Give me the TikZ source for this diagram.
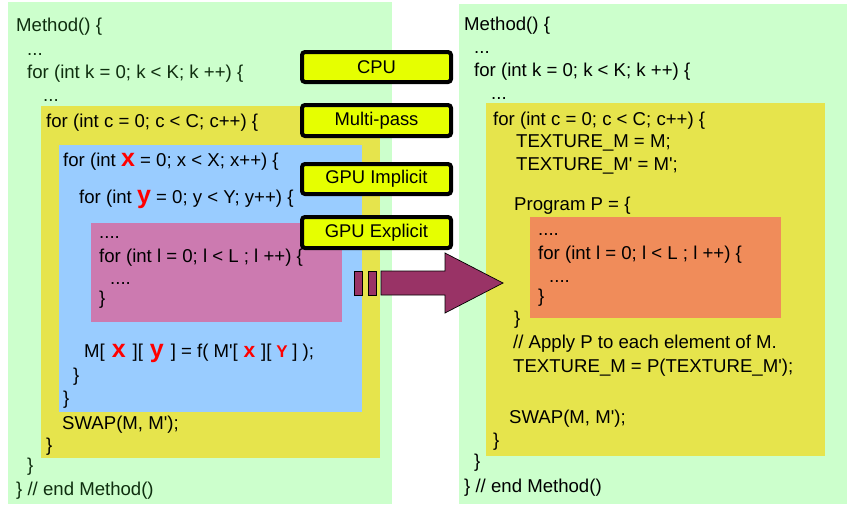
\documentclass[tikz,border=0pt]{standalone}
\usepackage{fontspec}
\setmainfont{Liberation Sans}
\definecolor{lgreen}{HTML}{CCFFCC}
\definecolor{olive}{HTML}{E6E44C}
\definecolor{lblue}{HTML}{99CCFF}
\definecolor{pinkbox}{HTML}{CC7AB0}
\definecolor{orangebox}{HTML}{F08C5A}
\definecolor{labfill}{HTML}{E6FF00}
\definecolor{arrowc}{HTML}{993366}
\definecolor{dgreen}{HTML}{0F2E0F}
\newcommand{\pr}{\textquotesingle}
\newcommand{\bigv}[1]{{\color{red}\fontsize{25}{25}\selectfont\bfseries #1}}
\newcommand{\midv}[1]{{\color{red}\fontsize{21}{21}\selectfont\bfseries #1}}
\newcommand{\smv}[1]{{\color{red}\fontsize{17}{17}\selectfont\bfseries #1}}
\begin{document}
\begin{tikzpicture}[x=1pt,y=-1pt,
  txt/.style={anchor=base west, inner sep=0pt, font=\fontsize{18.6}{22}\selectfont},
  otxt/.style={txt, text=dgreen},
  lab/.style={draw=black, line width=4pt, rounded corners=3pt, fill=labfill,
    minimum width=149pt, inner sep=0pt, font=\fontsize{18.4}{22}\selectfont},
  blockarrow/.style={fill=arrowc, draw=black, line width=0.7pt, line join=miter}]
\useasboundingbox (0,0) rectangle (847,504);
\fill[white] (0,0) rectangle (847,504);
% ---------- left panel boxes
\fill[lgreen] (8,2) rectangle (392,504);
\fill[olive] (41,106) rectangle (380,458);
\fill[lblue] (59,145) rectangle (362,412);
\fill[pinkbox] (91,223) rectangle (342,322);
% ---------- right panel boxes
\fill[lgreen] (459,4) rectangle (847,504);
\fill[olive] (486,103) rectangle (825,456);
\fill[orangebox] (530,217) rectangle (781,318);
% ---------- left text
\node[otxt] (l1) at (16,31) {Method() \{};
\node[otxt] (l2) at (27,55) {...};
\node[otxt] (l3) at (27,78) {for (int k = 0; k < K; k ++) \{};
\node[otxt] (l4) at (43,101) {...};
\node[txt] (l5) at (46,127) {for (int c = 0; c < C; c++) \{};
\node[txt] (l6) at (63,166) {for (int \bigv{x} = 0; x < X; x++) \{};
\node[txt] (l7) at (79,203) {for (int \bigv{y} = 0; y < Y; y++) \{};
\node[txt] (l8) at (99,238) {....};
\node[txt] (l9) at (99,262) {for (int l = 0; l < L ; l ++) \{};
\node[txt] (l10) at (110,284) {....};
\node[txt] (l11) at (99,304) {\}};
\node[txt] (l12) at (84,357) {M[\bigv{\ x\ }][\bigv{\ y\ }] = f( M\pr[\midv{\ x\ }][\smv{\ Y\ }] );};
\node[txt] (l13) at (73,381) {\}};
\node[txt] (l14) at (63,404) {\}};
\node[txt] (l15) at (62,429) {SWAP(M, M\pr);};
\node[txt] (l16) at (46,451) {\}};
\node[otxt] (l17) at (27,471) {\}};
\node[otxt] (l18) at (16,495) {\} // end Method()};
% ---------- right text
\node[txt] (r1) at (464,30) {Method() \{};
\node[txt] (r2) at (474,53) {...};
\node[txt] (r3) at (474,76) {for (int k = 0; k < K; k ++) \{};
\node[txt] (r4) at (491,99) {...};
\node[txt] (r5) at (493,125) {for (int c = 0; c < C; c++) \{};
\node[txt] (r6) at (516,147) {TEXTURE\_M = M;};
\node[txt] (r7) at (516,170) {TEXTURE\_M\pr{} = M\pr;};
\node[txt] (r8) at (514,210) {Program P = \{};
\node[txt] (r9) at (538,235) {....};
\node[txt] (r10) at (538,259) {for (int l = 0; l < L ; l ++) \{};
\node[txt] (r11) at (549,282) {....};
\node[txt] (r12) at (538,302) {\}};
\node[txt] (r13) at (514,324) {\}};
\node[txt] (r14) at (513,348) {// Apply P to each element of M.};
\node[txt] (r15) at (513,372) {TEXTURE\_M = P(TEXTURE\_M\pr);};
\node[txt] (r16) at (509,423) {SWAP(M, M\pr);};
\node[txt] (r17) at (493,446) {\}};
\node[txt] (r18) at (474,467) {\}};
\node[txt] (r19) at (464,492) {\} // end Method()};
% ---------- block arrow
\draw[blockarrow] (354,271) rectangle (362,295);
\draw[blockarrow] (368,271) rectangle (376,295);
\draw[blockarrow] (381,271) -- (445,271) -- (445,253) -- (503,283) -- (445,313) -- (445,295) -- (381,295) -- cycle;
% ---------- labels
\node[lab, minimum height=30pt] (cpu) at (376.5,67) {CPU};
\node[lab, minimum height=31pt] (mp) at (376.5,120.5) {Multi-pass};
\node[lab, minimum height=30pt] (gi) at (376.5,179) {GPU Implicit};
\node[lab, minimum height=31pt] (ge) at (376.5,232.5) {GPU Explicit};
\end{tikzpicture}
\end{document}
